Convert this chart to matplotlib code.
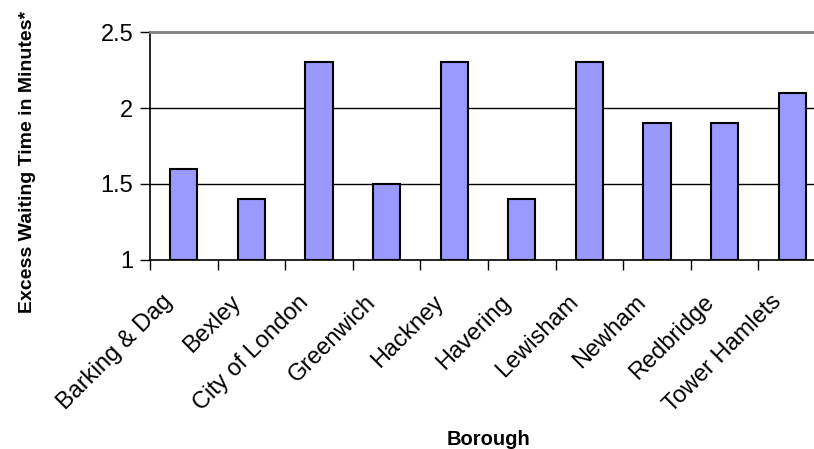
import numpy as np
import matplotlib.pyplot as plt
import matplotlib.transforms as mtransforms
from matplotlib.ticker import FixedLocator

# borough excess waiting times
boroughs = ["Barking & Dag", "Bexley", "City of London", "Greenwich", "Hackney",
            "Havering", "Lewisham", "Newham", "Redbridge", "Tower Hamlets"]
wait_times = [1.6, 1.4, 2.3, 1.5, 2.3, 1.4, 2.3, 1.9, 1.9, 2.1]
y_ticks = [1, 1.5, 2, 2.5]
y_tick_labels = ["1", "1.5", "2", "2.5"]

plt.rcParams['font.family'] = ['Liberation Sans', 'DejaVu Sans']

fig = plt.figure(figsize=(8.14, 4.49), dpi=100)
# plot area runs past the right edge, like the original crop
ax = fig.add_axes([150/814, (449-260)/449, 676/814, 228/449])

x = np.arange(len(boroughs))
ax.bar(x, [v - 1 for v in wait_times], bottom=1, width=0.4,
       color='#9999FF', edgecolor='black', linewidth=1.5, zorder=3)

ax.set_xlim(-0.5, len(boroughs) - 0.5)
ax.set_ylim(1, 2.5)
ax.set_yticks(y_ticks)
ax.set_yticklabels(y_tick_labels, fontsize=17)

# labels at the centres, tick marks between categories
ax.set_xticks(x)
ax.set_xticklabels(boroughs, rotation=45, ha='right', va='top',
                   rotation_mode='anchor', fontsize=17)
ax.xaxis.set_minor_locator(FixedLocator(np.arange(-0.5, len(boroughs), 1)))
ax.tick_params(axis='x', which='major', length=0, pad=0)
ax.tick_params(axis='x', which='minor', length=7, width=1, direction='out', color='black')
ax.tick_params(axis='y', length=7, width=1, direction='out', pad=5)

shift = mtransforms.ScaledTranslation(-22/100, -31/100, fig.dpi_scale_trans)
for lbl in ax.get_xticklabels():
    lbl.set_transform(lbl.get_transform() + shift)

for g in [1.5, 2]:
    ax.axhline(g, color='black', linewidth=1, zorder=1)

ax.spines['top'].set_color('#808080')
ax.spines['top'].set_linewidth(2)
ax.spines['right'].set_visible(False)
ax.spines['left'].set_linewidth(1.2)
ax.spines['bottom'].set_linewidth(1.2)

ax.set_ylabel("Excess Waiting Time in Minutes*", fontsize=14, fontweight='bold',
              va='center')
ax.yaxis.set_label_coords(-0.181, 0.43)
ax.set_xlabel("Borough", fontsize=14.5, fontweight='bold')
ax.xaxis.set_label_coords(0.5, -0.746)

fig.savefig("out.png", dpi=100)
